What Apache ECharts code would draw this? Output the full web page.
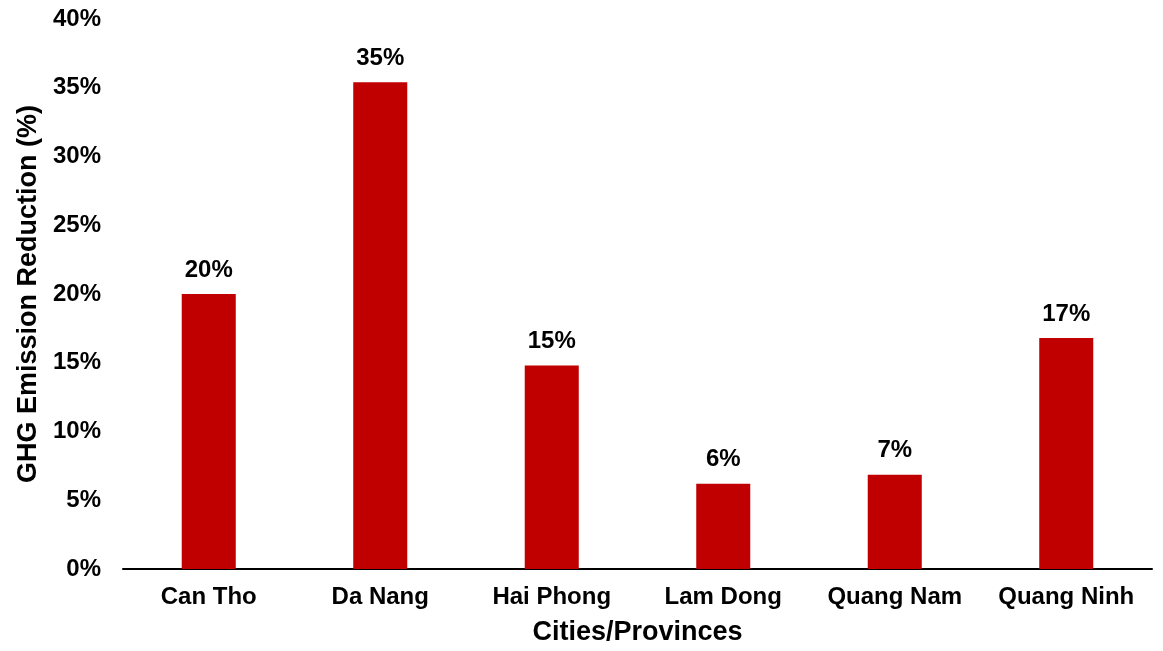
<!DOCTYPE html>
<html>
<head>
<meta charset="utf-8">
<script src="https://cdn.jsdelivr.net/npm/echarts@6/dist/echarts.min.js"></script>
<style>
html,body{margin:0;padding:0;background:#fff;}
#chart{width:1163px;height:651px;}
</style>
</head>
<body>
<div id="chart"></div>
<script>
const categories = ['Can Tho', 'Da Nang', 'Hai Phong', 'Lam Dong', 'Quang Nam', 'Quang Ninh'];
const reductionPct = [20.0, 35.4, 14.8, 6.2, 6.85, 16.8];
const yTicks = { min: 0, max: 40, interval: 5 };
const xTitle = 'Cities/Provinces';
const yTitle = 'GHG Emission Reduction (%)';

const FONT = '"Liberation Sans", Arial, sans-serif';
const chart = echarts.init(document.getElementById('chart'));
chart.setOption({
  animation: false,
  backgroundColor: '#ffffff',
  grid: { left: 123, right: 11, top: 19, bottom: 78, containLabel: false },
  xAxis: {
    type: 'category',
    data: categories,
    name: xTitle,
    nameLocation: 'middle',
    nameGap: 50,
    nameTextStyle: { fontFamily: FONT, fontWeight: 'bold', fontSize: 27, color: '#000' },
    axisLine: { lineStyle: { color: '#000', width: 2 } },
    axisTick: { show: false },
    axisLabel: { interval: 0, fontFamily: FONT, fontWeight: 'bold', fontSize: 24, color: '#000', margin: 16 }
  },
  yAxis: {
    type: 'value',
    min: yTicks.min,
    max: yTicks.max,
    interval: yTicks.interval,
    name: yTitle,
    nameLocation: 'middle',
    nameRotate: 90,
    nameGap: 76,
    nameTextStyle: { fontFamily: FONT, fontWeight: 'bold', fontSize: 27, color: '#000' },
    axisLine: { show: false },
    axisTick: { show: false },
    splitLine: { show: false },
    axisLabel: { fontFamily: FONT, fontWeight: 'bold', fontSize: 24, color: '#000', margin: 22, formatter: v => v + '%' }
  },
  series: [{
    type: 'bar',
    data: reductionPct,
    barWidth: '31.5%',
    itemStyle: { color: '#C00000' },
    label: {
      show: true,
      position: 'top',
      distance: 12,
      fontFamily: FONT,
      fontWeight: 'bold',
      fontSize: 24,
      color: '#000',
      formatter: p => Math.round(p.value) + '%'
    }
  }]
});
</script>
</body>
</html>
